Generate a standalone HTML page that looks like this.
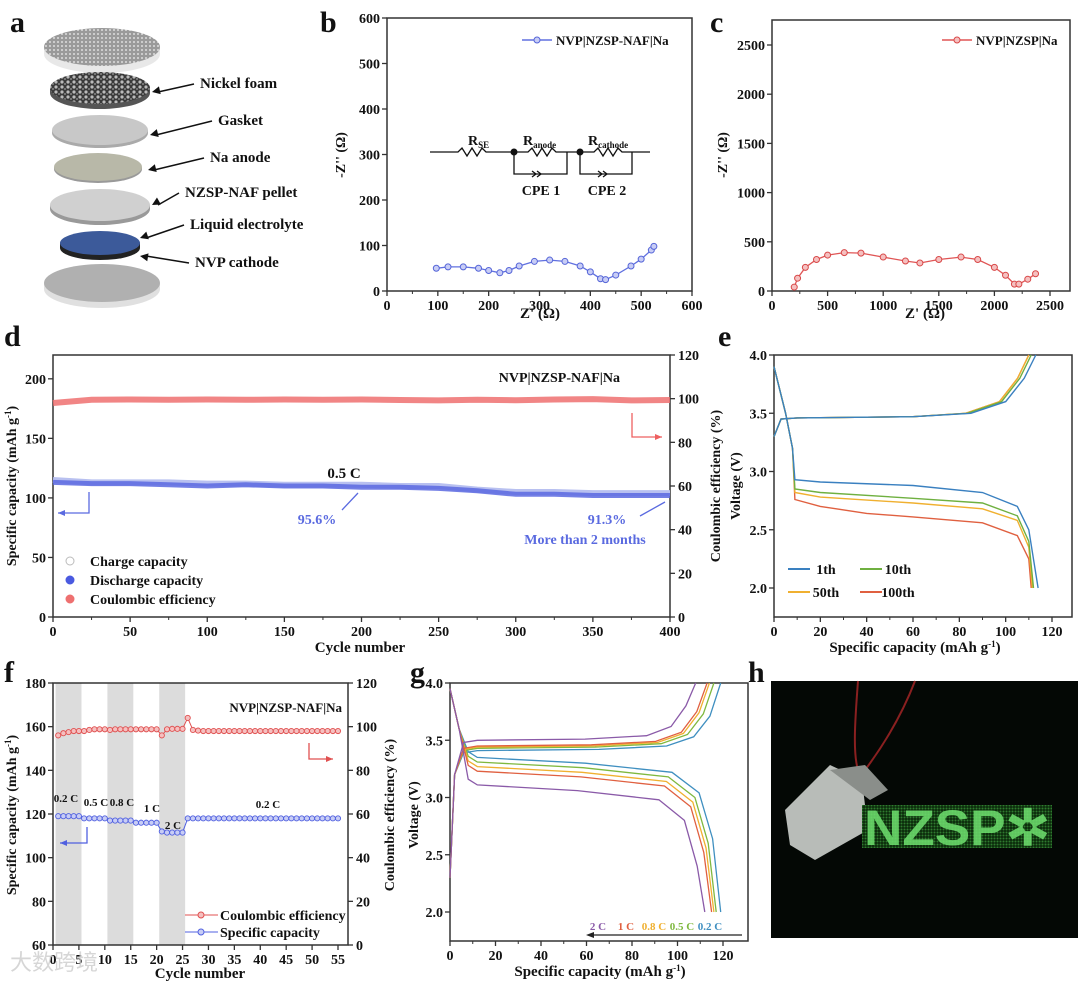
<!DOCTYPE html>
<html><head><meta charset="utf-8"><style>
html,body{margin:0;padding:0;background:#fff;}
svg{display:block;font-family:"Liberation Serif",serif;font-weight:bold;}
</style></head><body>
<svg id="fig" xmlns="http://www.w3.org/2000/svg" width="1080" height="988" viewBox="0 0 1080 988">
<defs>
<pattern id="foam" width="6" height="5" patternUnits="userSpaceOnUse"><rect width="6" height="5" fill="#3a3a3a"/><circle cx="2" cy="2" r="1.6" fill="#bbb"/><circle cx="5" cy="4" r="1" fill="#888"/></pattern>
<pattern id="dots" width="4" height="4" patternUnits="userSpaceOnUse"><rect width="4" height="4" fill="#9a9a9a"/><circle cx="2" cy="2" r="1" fill="#ddd"/></pattern>
<pattern id="led" width="3" height="3" patternUnits="userSpaceOnUse"><rect width="3" height="3" fill="#0b2a0b"/><circle cx="1.5" cy="1.5" r="1" fill="#2f7a2f"/></pattern>
</defs>
<g id="root"></g>
</svg>
<script>
const NS='http://www.w3.org/2000/svg';
// ---------- DATA ----------
const bZre=[97,120,150,180,200,222,240,260,290,320,350,380,400,420,430,450,480,500,520,525];
const bZim=[50,53,53,50,45,40,45,55,65,68,65,55,42,27,25,35,55,70,90,98];
const cZre=[200,230,300,400,500,650,800,1000,1200,1330,1500,1700,1850,2000,2100,2180,2220,2300,2370];
const cZim=[40,130,240,320,365,390,385,345,305,285,320,345,320,240,160,70,70,120,175];
const dCycles=[0,25,50,75,100,125,150,175,200,225,250,275,300,325,350,375,400];
const dCharge=[115,113,113,113,112,112,111,111,111,110,110,107,105,105,104,104,104];
const dDischarge=[113,112,112,111,110,111,110,110,109,109,108,106,103,103,102,102,102];
const dCE=[98,99.5,99.6,99.5,99.6,99.5,99.6,99.5,99.6,99.4,99.2,99.5,99.3,99.6,99.8,99.2,99.4];
const eCharge1X=[0,3,10,60,85,100,108,113];
const eCharge1Y=[3.3,3.45,3.46,3.47,3.5,3.6,3.8,4.0];
const eDis1X=[0,5,8,9,20,60,90,105,110,114];
const eDis1Y=[3.9,3.5,3.2,2.93,2.91,2.88,2.82,2.7,2.5,2.0];
const eDis10X=[0,5,8,9,20,60,90,105,110,112];
const eDis10Y=[3.9,3.5,3.2,2.85,2.82,2.77,2.73,2.62,2.4,2.0];
const eDis50X=[0,5,8,9,20,60,90,105,110,111.5];
const eDis50Y=[3.9,3.5,3.2,2.82,2.78,2.73,2.68,2.58,2.35,2.0];
const eDis100X=[0,5,8,9,20,40,60,90,105,110,111];
const eDis100Y=[3.9,3.5,3.2,2.76,2.7,2.64,2.61,2.56,2.45,2.25,2.0];
const eChargeEnd=[113,111,110,110];
const fCap=[119,119,119,119,119,118,118,118,118,118,117,117,117,117,117,116,116,116,116,116,112,111.5,111.5,111.5,111.5,118,118,118,118,118,118,118,118,118,118,118,118,118,118,118,118,118,118,118,118,118,118,118,118,118,118,118,118,118,118];
const fCE=[96,97,97.5,98,98,98,98.5,98.8,98.8,98.8,98.5,98.8,98.8,98.8,98.8,98.8,98.8,98.8,98.8,98.8,96,98.8,99,99,99,104,98.5,98.2,98,98,98,98,98,98,98,98,98,98,98,98,98,98,98,98,98,98,98,98,98,98,98,98,98,98,98];
const gRates=['0.2 C','0.5 C','0.8 C','1 C','2 C'];
const gChargePlateau=[3.41,3.43,3.44,3.45,3.50];
const gChargeEnd=[119,116,114,113,108];
const gDisPlateau=[3.34,3.30,3.26,3.22,3.10];
const gDisEnd=[119,117,116,115,112];
const gColors=['#3f8fc0','#7fb83f','#f0b030','#e06040','#8a5aa8'];

// ---------- HELPERS ----------
const root=document.getElementById('root');
function mk(tag,attrs,name,parent){
  const el=document.createElementNS(NS,tag);
  for(const k in attrs) el.setAttribute(k,attrs[k]);
  
  
  (parent||root).appendChild(el);
  return el;
}
function txt(x,y,s,size,anchor,name,extra){
  const a={x:x,y:y,'font-size':size,'text-anchor':anchor||'middle',fill:'#111'};
  if(extra) for(const k in extra) a[k]=extra[k];
  const t=mk('text',a,name);
  t.innerHTML=s; return t;
}
function scale(d0,d1,r0,r1){return v=>r0+(v-d0)*(r1-r0)/(d1-d0);}
function frame(L,R,T,B,name){
  mk('rect',{x:L,y:T,width:R-L,height:B-T,fill:'none',stroke:'#333','stroke-width':1.5},name);
}
function xticks(sx,B,vals,labels,name,minorStep,min,max){
  vals.forEach((v,i)=>{
    mk('line',{x1:sx(v),x2:sx(v),y1:B,y2:B+5,stroke:'#333','stroke-width':1.3},name+'-tick');
    txt(sx(v),B+19,labels[i],14,'middle',name+'-label');
  });
  if(minorStep) for(let v=min+minorStep/2;v<max;v+=minorStep) mk('line',{x1:sx(v),x2:sx(v),y1:B,y2:B+3,stroke:'#333','stroke-width':1},name+'-minor');
}
function yticks(sy,X,vals,labels,name,side){
  vals.forEach((v,i)=>{
    const d=side==='r'?5:-5;
    mk('line',{x1:X,x2:X+d,y1:sy(v),y2:sy(v),stroke:'#333','stroke-width':1.3},name+'-tick');
    txt(X+(side==='r'?8:-7),sy(v)+5,labels[i],14,side==='r'?'start':'end',name+'-label');
  });
}
function path(xs,ys,sx,sy){return xs.map((v,i)=>(i?'L':'M')+sx(v).toFixed(1)+','+sy(ys[i]).toFixed(1)).join(' ');}
function ylabel(x,y,s,name){txt(x,y,s,14,'middle',name,{transform:'rotate(-90 '+x+' '+y+')'});}
function elbow(x,y1,y2,x2,col,name){
  mk('path',{d:'M'+x+','+y1+' V'+y2+' H'+x2,stroke:col,'stroke-width':1.3,fill:'none'},name);
  const dir=x2<x?1:-1;
  mk('path',{d:'M'+x2+','+y2+' l'+(7*dir)+',-3 v6 z',fill:col},name+'-head');
}

// panel letters
[['a',10,32],['b',320,32],['c',710,32],['d',4,346],['e',718,346],['f',4,682],['g',410,682],['h',748,682]].forEach(p=>txt(p[1],p[2],p[0],30,'start','panel-label-'+p[0]));

// ---------- PANEL A (schematic) ----------
(function(){
  const A=mk('g',{},'panel-a-schematic');
  function disk(cx,cy,rx,ry,h,fill,edge,name){
    mk('ellipse',{cx:cx,cy:cy+h,rx:rx,ry:ry,fill:edge},name+'-edge',A);
    mk('rect',{x:cx-rx,y:cy,width:2*rx,height:h,fill:edge},name+'-side',A);
    mk('ellipse',{cx:cx,cy:cy,rx:rx,ry:ry,fill:fill},name+'-top',A);
  }
  disk(102,47,58,19,7,'url(#dots)','#e8e8e8','top-cap');
  disk(100,88,50,16,5,'url(#foam)','#555','nickel-foam');
  disk(100,130,48,15,3,'#c8c8c8','#aaa','gasket');
  disk(98,167,44,14,2,'#b8b8a8','#999','na-anode');
  disk(100,205,50,16,4,'#d0d0d0','#999','nzsp-pellet');
  disk(100,243,40,12,5,'#3c5a9a','#222','nvp-cathode');
  disk(102,283,58,19,6,'#b0b0b0','#e0e0e0','bottom-cap');
  const labs=[['Nickel foam',88,152],['Gasket',125,150],['Na anode',162,148],['NZSP-NAF pellet',197,152],['Liquid electrolyte',229,140],['NVP cathode',267,140]];
  const lx=[200,218,210,185,190,195];
  const ay=[92,135,170,205,238,256];
  labs.forEach((l,i)=>{
    mk('line',{x1:lx[i]-6,y1:l[1]-4,x2:l[2]+6,y2:ay[i],stroke:'#111','stroke-width':1.5},'label-arrow',A);
    mk('path',{d:'M'+l[2]+','+ay[i]+' l8,-4 l0,8 z',fill:'#111',transform:'rotate('+(Math.atan2(ay[i]-(l[1]-4),(l[2]+6)-(lx[i]-6))*180/Math.PI+180)+' '+l[2]+' '+ay[i]+')'},'arrow-head',A);
    txt(lx[i],l[1],l[0],15,'start','component-label');
  });
})();

// ---------- PANEL B ----------
(function(){
  const L=387,R=692,T=18,B=291;
  const sx=scale(0,600,L,R), sy=scale(0,600,B,T);
  frame(L,R,T,B,'panel-b-frame');
  xticks(sx,B,[0,100,200,300,400,500,600],['0','100','200','300','400','500','600'],'b-x',100,0,600);
  yticks(sy,L,[0,100,200,300,400,500,600],['0','100','200','300','400','500','600'],'b-y');
  txt(540,318,"Z' (Ω)",15,'middle','b-x-title');
  ylabel(345,155,"-Z'' (Ω)",'b-y-title');
  mk('path',{d:path(bZre,bZim,sx,sy),fill:'none',stroke:'#6070e0','stroke-width':1.3},'b-series-line');
  bZre.forEach((v,i)=>mk('circle',{cx:sx(v),cy:sy(bZim[i]),r:3,fill:'#c8cdf5',stroke:'#5565d8','stroke-width':1},'b-point'));
  mk('line',{x1:522,x2:552,y1:40,y2:40,stroke:'#6070e0','stroke-width':1.5},'b-legend-line');
  mk('circle',{cx:537,cy:40,r:3,fill:'#c8cdf5',stroke:'#5565d8'},'b-legend-marker');
  txt(556,45,'NVP|NZSP-NAF|Na',13,'start','b-legend-text');
  const C=mk('g',{fill:'none',stroke:'#111','stroke-width':1.3},'equivalent-circuit');
  mk('path',{d:'M430,152 H458 l4,-4 l5,8 l5,-8 l5,8 l5,-8 l4,4 H514 M514,152 H528 l4,-4 l5,8 l5,-8 l5,8 l5,-8 l4,4 H567 M514,152 V174 H567 V152 M567,152 H580 M580,152 H594 l4,-4 l5,8 l5,-8 l5,8 l5,-8 l4,4 H632 H650 M580,152 V174 H632 V152'},'circuit-wires',C);
  mk('path',{d:'M532,171 l4,3 l-4,3 M537,171 l4,3 l-4,3 M598,171 l4,3 l-4,3 M603,171 l4,3 l-4,3'},'cpe-symbols',C);
  mk('circle',{cx:514,cy:152,r:3.5,fill:'#111'},'node');
  mk('circle',{cx:580,cy:152,r:3.5,fill:'#111'},'node');
  txt(468,145,'R<tspan font-size="9" dy="3">SE</tspan>',14,'start','r-se-label');
  txt(523,145,'R<tspan font-size="9" dy="3">anode</tspan>',14,'start','r-anode-label');
  txt(588,145,'R<tspan font-size="9" dy="3">cathode</tspan>',14,'start','r-cathode-label');
  txt(541,195,'CPE 1',14,'middle','cpe1-label');
  txt(607,195,'CPE 2',14,'middle','cpe2-label');
})();

// ---------- PANEL C ----------
(function(){
  const L=772,R=1070,T=20,B=291;
  const sx=scale(0,2500,L,1050), sy=scale(0,2500,B,45);
  frame(L,R,T,B,'panel-c-frame');
  xticks(sx,B,[0,500,1000,1500,2000,2500],['0','500','1000','1500','2000','2500'],'c-x',500,0,2750);
  yticks(sy,L,[0,500,1000,1500,2000,2500],['0','500','1000','1500','2000','2500'],'c-y');
  txt(925,318,"Z' (Ω)",15,'middle','c-x-title');
  ylabel(727,155,"-Z'' (Ω)",'c-y-title');
  mk('path',{d:path(cZre,cZim,sx,sy),fill:'none',stroke:'#e05555','stroke-width':1.3},'c-series-line');
  cZre.forEach((v,i)=>mk('circle',{cx:sx(v),cy:sy(cZim[i]),r:3,fill:'#f5c0c0',stroke:'#d84848','stroke-width':1},'c-point'));
  mk('line',{x1:942,x2:972,y1:40,y2:40,stroke:'#e05555','stroke-width':1.5},'c-legend-line');
  mk('circle',{cx:957,cy:40,r:3,fill:'#f5c0c0',stroke:'#d84848'},'c-legend-marker');
  txt(976,45,'NVP|NZSP|Na',13,'start','c-legend-text');
})();

// ---------- PANEL D ----------
(function(){
  const L=53,R=670,T=355,B=617;
  const sx=scale(0,400,L,R), sy=scale(0,220,B,T), sy2=scale(0,120,B,T);
  frame(L,R,T,B,'panel-d-frame');
  xticks(sx,B,[0,50,100,150,200,250,300,350,400],['0','50','100','150','200','250','300','350','400'],'d-x',50,0,400);
  yticks(sy,L,[0,50,100,150,200],['0','50','100','150','200'],'d-y');
  yticks(sy2,R,[0,20,40,60,80,100,120],['0','20','40','60','80','100','120'],'d-y2','r');
  txt(360,652,'Cycle number',15,'middle','d-x-title');
  ylabel(16,486,'Specific capacity (mAh g<tspan font-size="9" dy="-5">-1</tspan><tspan dy="5">)</tspan>','d-y-title');
  ylabel(720,486,'Coulombic efficiency (%)','d-y2-title');
  mk('path',{d:path(dCycles,dCharge,sx,sy),fill:'none',stroke:'#b8c0f0','stroke-width':6},'d-charge-line');
  mk('path',{d:path(dCycles,dDischarge,sx,sy),fill:'none',stroke:'#5a68e0','stroke-width':5,'stroke-opacity':0.85},'d-discharge-line');
  mk('path',{d:path(dCycles,dCE,sx,sy2),fill:'none',stroke:'#ee7070','stroke-width':6,'stroke-opacity':0.85},'d-ce-line');
  txt(620,382,'NVP|NZSP-NAF|Na',14,'end','d-cell-label');
  txt(344,478,'0.5 C',15,'middle','d-rate-label');
  txt(317,524,'95.6%',14,'middle','d-retention-1',{fill:'#5a6ae0'});
  txt(607,524,'91.3%',14,'middle','d-retention-2',{fill:'#5a6ae0'});
  txt(585,544,'More than 2 months',14,'middle','d-duration-label',{fill:'#5a6ae0'});
  mk('path',{d:'M342,510 L358,493 M640,516 L665,502',stroke:'#5a6ae0','stroke-width':1.3,fill:'none'},'d-pointer-arrows');
  elbow(89,492,513,58,'#5a6ae0','d-left-axis-arrow');
  elbow(632,413,437,662,'#ee6060','d-right-axis-arrow');
  const lg=[['Charge capacity','#fff','#bbb'],['Discharge capacity','#4a5ae0','#4a5ae0'],['Coulombic efficiency','#ee7070','#ee7070']];
  lg.forEach((l,i)=>{
    mk('circle',{cx:70,cy:561+i*19,r:4,fill:l[1],stroke:l[2]},'d-legend-marker');
    txt(90,566+i*19,l[0],14,'start','d-legend-text');
  });
})();

// ---------- PANEL E ----------
(function(){
  const L=774,R=1072,T=355,B=617;
  const sx=scale(0,120,L,1052), sy=scale(2.0,4.0,588,T);
  frame(L,R,T,B,'panel-e-frame');
  xticks(sx,B,[0,20,40,60,80,100,120],['0','20','40','60','80','100','120'],'e-x',20,0,130);
  yticks(sy,L,[2.0,2.5,3.0,3.5,4.0],['2.0','2.5','3.0','3.5','4.0'],'e-y');
  txt(915,652,'Specific capacity (mAh g<tspan font-size="9" dy="-5">-1</tspan><tspan dy="5">)</tspan>',15,'middle','e-x-title');
  ylabel(740,486,'Voltage (V)','e-y-title');
  const cols=['#3a80c0','#6fb040','#f0b030','#e06040'];
  const dis=[[eDis1X,eDis1Y],[eDis10X,eDis10Y],[eDis50X,eDis50Y],[eDis100X,eDis100Y]];
  [3,2,1,0].forEach(i=>{
    const cx=eCharge1X.map((v,k)=>k<4?v:v*eChargeEnd[i]/113);
    mk('path',{d:path(cx,eCharge1Y,sx,sy),fill:'none',stroke:cols[i],'stroke-width':1.4},'e-charge-curve');
    mk('path',{d:path(dis[i][0],dis[i][1],sx,sy),fill:'none',stroke:cols[i],'stroke-width':1.4},'e-discharge-curve');
  });
  const names=['1th','10th','50th','100th'];
  [[788,569],[860,569],[788,592],[860,592]].forEach((p,i)=>{
    mk('line',{x1:p[0],x2:p[0]+22,y1:p[1],y2:p[1],stroke:cols[i],'stroke-width':2},'e-legend-line');
    txt(p[0]+38,p[1]+5,names[i],14,'middle','e-legend-text');
  });
})();

// ---------- PANEL F ----------
(function(){
  const L=53,R=348,T=683,B=945;
  const sx=scale(0,55,L,338), sy=scale(60,180,B,T), sy2=scale(0,120,B,T);
  [[0.5,5.5],[10.5,15.5],[20.5,25.5]].forEach(b=>mk('rect',{x:sx(b[0]),y:T,width:sx(b[1])-sx(b[0]),height:B-T,fill:'#dcdcdc'},'f-rate-band'));
  frame(L,R,T,B,'panel-f-frame');
  const xt=[0,5,10,15,20,25,30,35,40,45,50,55];
  xticks(sx,B,xt,xt.map(String),'f-x');
  yticks(sy,L,[60,80,100,120,140,160,180],['60','80','100','120','140','160','180'],'f-y');
  yticks(sy2,R,[0,20,40,60,80,100,120],['0','20','40','60','80','100','120'],'f-y2','r');
  txt(200,978,'Cycle number',15,'middle','f-x-title');
  ylabel(16,815,'Specific capacity (mAh g<tspan font-size="9" dy="-5">-1</tspan><tspan dy="5">)</tspan>','f-y-title');
  ylabel(394,815,'Coulombic efficiency (%)','f-y2-title');
  const cyc=fCap.map((v,i)=>i+1);
  mk('path',{d:path(cyc,fCap,sx,sy),fill:'none',stroke:'#5060e0','stroke-width':1},'f-capacity-line');
  mk('path',{d:path(cyc,fCE,sx,sy2),fill:'none',stroke:'#e05050','stroke-width':1},'f-ce-line');
  cyc.forEach((c,i)=>{
    mk('circle',{cx:sx(c),cy:sy(fCap[i]),r:2.6,fill:'#c8cdf5',stroke:'#5060e0','stroke-width':0.9},'f-capacity-point');
    mk('circle',{cx:sx(c),cy:sy2(fCE[i]),r:2.6,fill:'#f5c0c0',stroke:'#e05050','stroke-width':0.9},'f-ce-point');
  });
  txt(342,712,'NVP|NZSP-NAF|Na',13,'end','f-cell-label');
  [['0.2 C',66,802],['0.5 C',96,806],['0.8 C',122,806],['1 C',152,812],['2 C',173,829],['0.2 C',268,808]].forEach(r=>txt(r[1],r[2],r[0],11,'middle','f-rate-label'));
  elbow(87,827,843,60,'#5060e0','f-left-axis-arrow');
  elbow(309,743,759,333,'#e05050','f-right-axis-arrow');
  mk('line',{x1:185,x2:218,y1:915,y2:915,stroke:'#e05050'},'f-legend-line');
  mk('circle',{cx:201,cy:915,r:3,fill:'#f5c0c0',stroke:'#e05050'},'f-legend-marker');
  txt(220,920,'Coulombic efficiency',14,'start','f-legend-text');
  mk('line',{x1:185,x2:218,y1:932,y2:932,stroke:'#5060e0'},'f-legend-line');
  mk('circle',{cx:201,cy:932,r:3,fill:'#c8cdf5',stroke:'#5060e0'},'f-legend-marker');
  txt(220,937,'Specific capacity',14,'start','f-legend-text');
  txt(10,970,'大数跨境',22,'start','watermark',{fill:'#ccc','font-family':'"Noto Sans CJK SC",sans-serif','font-weight':'normal','fill-opacity':0.8});
})();

// ---------- PANEL G ----------
(function(){
  const L=450,R=748,T=683,B=941;
  const sx=scale(0,120,L,723), sy=scale(2.0,4.0,912,T);
  frame(L,R,T,B,'panel-g-frame');
  xticks(sx,B,[0,20,40,60,80,100,120],['0','20','40','60','80','100','120'],'g-x',20,0,130);
  yticks(sy,L,[2.0,2.5,3.0,3.5,4.0],['2.0','2.5','3.0','3.5','4.0'],'g-y');
  txt(600,976,'Specific capacity (mAh g<tspan font-size="9" dy="-5">-1</tspan><tspan dy="5">)</tspan>',15,'middle','g-x-title');
  ylabel(418,815,'Voltage (V)','g-y-title');
  gRates.forEach((r,i)=>{
    const e=gChargeEnd[i], p=gChargePlateau[i];
    const chX=[0,2,6,12,e*0.55,e*0.8,e*0.9,e*0.96,e];
    const chY=[2.3,3.2,p-0.02,p,p+0.01,p+0.04,p+0.12,p+0.3,4.0];
    const de=gDisEnd[i], dp=gDisPlateau[i];
    const dX=[0,4,8,12,de*0.5,de*0.82,de*0.92,de*0.97,de];
    const dY=[3.95,3.6,dp+0.06,dp+0.01,dp-0.04,dp-0.12,dp-0.3,dp-0.7,2.0];
    mk('path',{d:path(chX,chY,sx,sy),fill:'none',stroke:gColors[i],'stroke-width':1.3},'g-charge-'+r);
    mk('path',{d:path(dX,dY,sx,sy),fill:'none',stroke:gColors[i],'stroke-width':1.3},'g-discharge-'+r);
  });
  [4,3,2,1,0].forEach((i,k)=>txt(598+k*28,930,gRates[i],11,'middle','g-legend-label',{fill:gColors[i]}));
  mk('line',{x1:592,x2:742,y1:935,y2:935,stroke:'#222','stroke-width':1.3},'g-arrow-line');
  mk('path',{d:'M586,935 l8,-3 v6 z',fill:'#222'},'g-arrow-head');
})();

// ---------- PANEL H (photo) ----------
(function(){
  const H=mk('g',{},'panel-h-photo');
  mk('rect',{x:771,y:681,width:307,height:257,fill:'#040805'},'photo-background',H);
  mk('path',{d:'M858,681 C855,720 852,760 860,775 M915,681 C900,720 880,750 865,770',stroke:'#8a2020','stroke-width':2,fill:'none'},'wires',H);
  mk('path',{d:'M785,810 L830,765 L862,780 L868,830 L815,860 L790,845 Z',fill:'#b8bcb8'},'battery-holder',H);
  mk('path',{d:'M830,770 L865,765 L888,790 L870,800 Z',fill:'#8a8e8a'},'holder-top',H);
  mk('rect',{x:862,y:805,width:190,height:43,fill:'url(#led)'},'led-panel',H);
  txt(864,845,'NZSP✲',50,'start','led-text',{fill:'#6fe06f','fill-opacity':0.85,'font-family':'"Liberation Sans",sans-serif','textLength':186,'lengthAdjust':'spacingAndGlyphs'});
})();
</script>
</body></html>
